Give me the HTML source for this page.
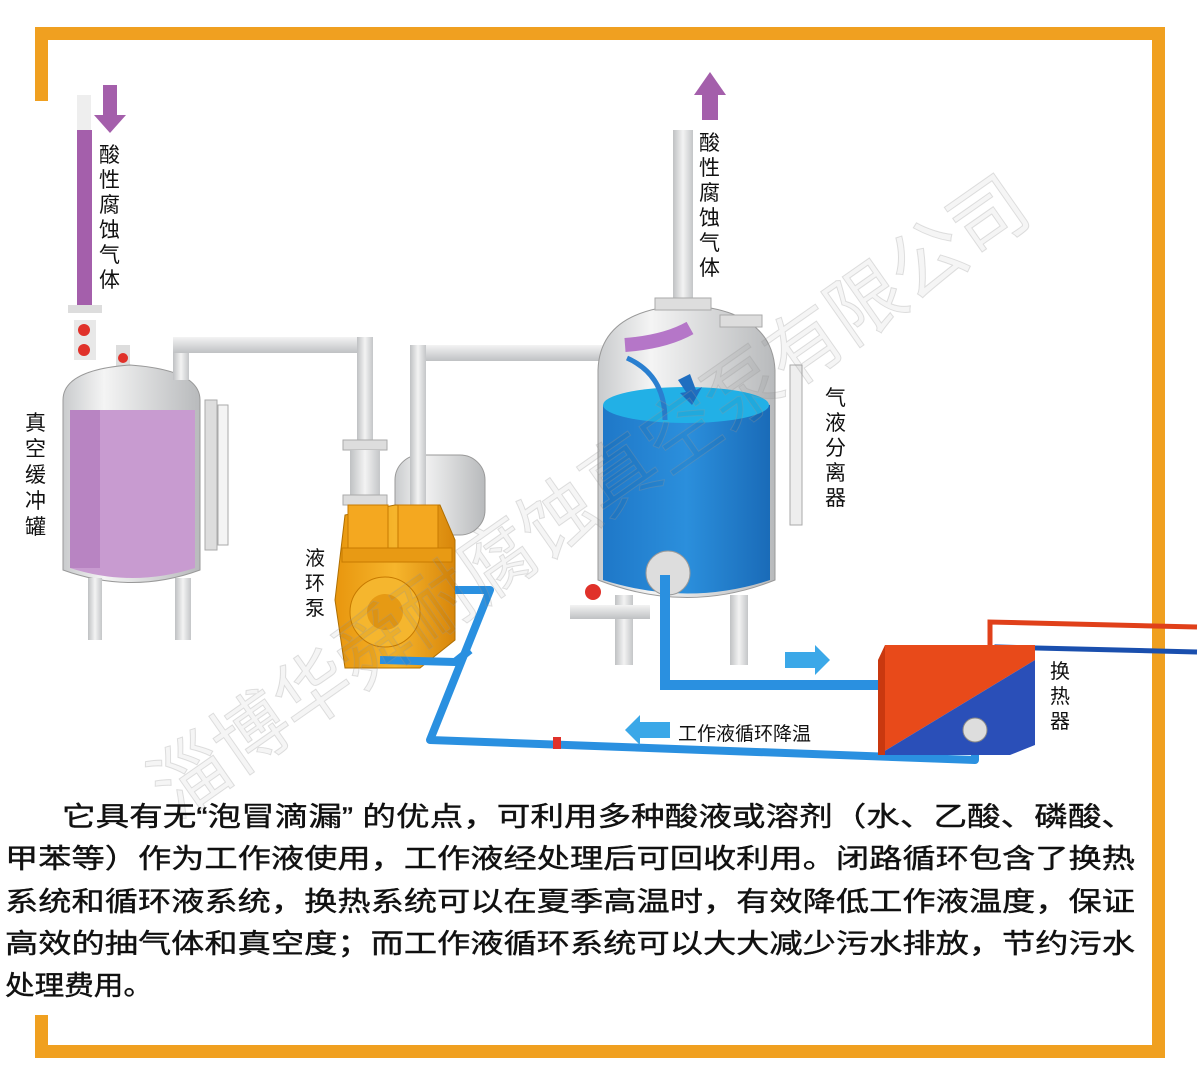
<!DOCTYPE html>
<html><head><meta charset="utf-8"><style>
html,body{margin:0;padding:0;background:#fff;}
svg{display:block;}
text{font-family:"Liberation Sans","Noto Sans CJK SC",sans-serif;}
</style></head><body>
<svg width="1200" height="1079" viewBox="0 0 1200 1079" xmlns="http://www.w3.org/2000/svg">
<defs>
<linearGradient id="steel" x1="0" x2="1"><stop offset="0" stop-color="#c9cbcd"/><stop offset="0.3" stop-color="#f4f4f4"/><stop offset="1" stop-color="#b8babc"/></linearGradient>
<linearGradient id="pipe" x1="0" x2="1"><stop offset="0" stop-color="#bfc1c3"/><stop offset="0.5" stop-color="#f3f3f3"/><stop offset="1" stop-color="#c4c6c8"/></linearGradient>
<linearGradient id="pipeh" x1="0" y1="0" x2="0" y2="1"><stop offset="0" stop-color="#f3f3f3"/><stop offset="1" stop-color="#bfc1c3"/></linearGradient>
<linearGradient id="blue" x1="0" x2="1"><stop offset="0" stop-color="#1f78c8"/><stop offset="0.5" stop-color="#2b8fdc"/><stop offset="1" stop-color="#1a6bb8"/></linearGradient>
<linearGradient id="orange" x1="0" x2="1"><stop offset="0" stop-color="#e8960e"/><stop offset="0.5" stop-color="#f6b52c"/><stop offset="1" stop-color="#d8860a"/></linearGradient>
</defs>
<g fill="#f0a020">
<rect x="35" y="27" width="1130" height="13"/>
<rect x="35" y="27" width="13" height="74"/>
<rect x="1152" y="27" width="13" height="1031"/>
<rect x="35" y="1045" width="1130" height="13"/>
<rect x="35" y="1015" width="13" height="43"/>
</g>
<rect x="77" y="95" width="14" height="40" fill="#eee"/>
<rect x="77" y="130" width="15" height="180" fill="#a45fab"/>
<polygon points="103,85 117,85 117,115 126,115 110,133 94,115 103,115" fill="#a45fab"/>
<g font-size="21" fill="#111">
<text x="99" y="162">酸</text><text x="99" y="187">性</text><text x="99" y="212">腐</text><text x="99" y="237">蚀</text><text x="99" y="262">气</text><text x="99" y="287">体</text>
</g>
<rect x="68" y="305" width="34" height="8" fill="#ddd"/>
<rect x="74" y="320" width="22" height="40" fill="#e8e8e8"/>
<circle cx="84" cy="330" r="6" fill="#e0312a"/><circle cx="84" cy="350" r="6" fill="#e0312a"/>
<rect x="116" y="345" width="14" height="35" fill="#ddd"/><circle cx="123" cy="358" r="5" fill="#e0312a"/>
<path d="M63,400 Q63,370 130,365 Q200,370 200,400 L200,570 Q132,595 63,570 Z" fill="url(#steel)" stroke="#999"/>
<path d="M70,410 L195,410 L195,568 Q132,588 70,568 Z" fill="#c89bd0"/>
<rect x="70" y="410" width="30" height="158" fill="#b884c2"/>
<rect x="88" y="578" width="14" height="62" fill="url(#pipe)"/>
<rect x="175" y="578" width="16" height="62" fill="url(#pipe)"/>
<rect x="205" y="400" width="12" height="150" fill="#ddd" stroke="#aaa"/>
<rect x="218" y="405" width="10" height="140" fill="#f4f4f4" stroke="#aaa"/>
<g font-size="21" fill="#111">
<text x="25" y="430">真</text><text x="25" y="456">空</text><text x="25" y="482">缓</text><text x="25" y="508">冲</text><text x="25" y="534">罐</text>
</g>
<rect x="173" y="340" width="16" height="40" fill="url(#pipe)"/>
<rect x="173" y="337" width="200" height="16" fill="url(#pipeh)"/>
<rect x="357" y="337" width="16" height="120" fill="url(#pipe)"/>
<rect x="343" y="440" width="44" height="10" fill="#ddd" stroke="#aaa"/>
<rect x="350" y="450" width="30" height="50" fill="url(#pipe)"/>
<rect x="343" y="495" width="44" height="10" fill="#ddd" stroke="#aaa"/>
<rect x="410" y="345" width="210" height="16" fill="url(#pipeh)"/>
<rect x="395" y="455" width="90" height="80" rx="25" fill="url(#steel)" stroke="#999"/>
<rect x="410" y="345" width="16" height="170" fill="url(#pipe)"/>
<!-- pump -->
<path d="M345,515 L395,505 L440,505 L455,540 L455,640 L420,668 L345,668 L335,600 Z" fill="url(#orange)" stroke="#b06f00"/>
<rect x="348" y="505" width="40" height="50" fill="#f4a820" stroke="#c77a00"/>
<rect x="398" y="505" width="40" height="50" fill="#f4a820" stroke="#c77a00"/>
<rect x="342" y="548" width="110" height="14" fill="#e89a14" stroke="#c77a00"/>
<circle cx="385" cy="612" r="35" fill="#f5b62e" stroke="#c77a00"/>
<circle cx="385" cy="612" r="18" fill="#e69a14"/>
<g font-size="20" fill="#111">
<text x="305" y="565">液</text><text x="305" y="590">环</text><text x="305" y="615">泵</text>
</g>
<rect x="673" y="130" width="20" height="180" fill="url(#pipe)"/>
<polygon points="702,120 702,95 694,95 710,72 726,95 718,95 718,120" fill="#a45fab"/>
<g font-size="21" fill="#111">
<text x="699" y="150">酸</text><text x="699" y="175">性</text><text x="699" y="200">腐</text><text x="699" y="225">蚀</text><text x="699" y="250">气</text><text x="699" y="275">体</text>
</g>
<path d="M598,370 Q600,310 685,305 Q772,310 775,370 L775,580 Q688,615 598,580 Z" fill="url(#steel)" stroke="#999"/>
<path d="M603,405 Q686,385 770,405 L770,580 Q688,607 603,580 Z" fill="url(#blue)"/>
<ellipse cx="686" cy="405" rx="83" ry="18" fill="#22b0e6"/>
<path d="M625,345 Q665,342 690,328" stroke="#b576c8" stroke-width="14" fill="none"/>
<path d="M627,358 Q665,375 665,420" stroke="#2a7fd0" stroke-width="5" fill="none"/>
<polygon points="678,380 690,374 696,390 702,387 692,405 680,393 686,392" fill="#1f6ec0"/>
<rect x="655" y="298" width="56" height="12" fill="#ddd" stroke="#aaa"/>
<rect x="720" y="315" width="42" height="12" fill="#ddd" stroke="#aaa"/>
<rect x="790" y="365" width="12" height="160" fill="#eee" stroke="#aaa"/>
<rect x="615" y="595" width="18" height="70" fill="url(#pipe)"/>
<rect x="730" y="595" width="18" height="70" fill="url(#pipe)"/>
<rect x="570" y="605" width="80" height="14" fill="url(#pipeh)"/>
<circle cx="593" cy="592" r="8" fill="#e0312a"/>
<circle cx="668" cy="573" r="22" fill="#ddd" stroke="#999"/>
<g font-size="21" fill="#111">
<text x="825" y="405">气</text><text x="825" y="430">液</text><text x="825" y="455">分</text><text x="825" y="480">离</text><text x="825" y="505">器</text>
</g>
<path d="M665,575 L665,685 L878,685" stroke="#2a90e0" stroke-width="10" fill="none"/>
<path d="M975,730 L975,760 L430,740 L490,590 L455,590" stroke="#2a90e0" stroke-width="8" fill="none" stroke-linejoin="round"/>
<path d="M380,660 L455,662 L470,650" stroke="#2a90e0" stroke-width="8" fill="none" stroke-linejoin="round"/>
<polygon points="785,652 815,652 815,645 830,660 815,675 815,668 785,668" fill="#3ba8e8"/>
<polygon points="670,722 640,722 640,715 625,730 640,745 640,738 670,738" fill="#3ba8e8"/>
<text x="678" y="740" font-size="19" fill="#111">工作液循环降温</text>
<rect x="553" y="737" width="8" height="12" fill="#e0312a"/>
<path d="M990,650 L990,622 L1197,627" stroke="#e0401a" stroke-width="5" fill="none"/>
<path d="M997,660 L997,647 L1197,652" stroke="#1a4fae" stroke-width="5" fill="none"/>
<polygon points="885,645 1035,645 1035,660 878,755" fill="#e84a1a"/>
<polygon points="1035,660 1035,745 1010,755 878,755" fill="#2a4fb8"/>
<polygon points="885,645 878,660 878,755 885,755" fill="#c9380f"/>
<circle cx="975" cy="730" r="12" fill="#ddd" stroke="#888"/>
<g font-size="20" fill="#111">
<text x="1050" y="678">换</text><text x="1050" y="703">热</text><text x="1050" y="728">器</text>
</g>
<text x="0" y="0" font-size="78" fill="#000" fill-opacity="0.04" stroke="#999" stroke-opacity="0.3" stroke-width="1" transform="translate(175,820) rotate(-35)" textLength="1050" lengthAdjust="spacingAndGlyphs">淄博华舜耐腐蚀真空泵有限公司</text>
<g font-size="27" fill="#111" stroke="#111" stroke-width="0.4">
<text x="62" y="826" textLength="1073" lengthAdjust="spacingAndGlyphs">它具有无“泡冒滴漏” 的优点，可利用多种酸液或溶剂（水、乙酸、磷酸、</text>
<text x="5" y="868" textLength="1130" lengthAdjust="spacingAndGlyphs">甲苯等）作为工作液使用，工作液经处理后可回收利用。闭路循环包含了换热</text>
<text x="5" y="911" textLength="1130" lengthAdjust="spacingAndGlyphs">系统和循环液系统，换热系统可以在夏季高温时，有效降低工作液温度，保证</text>
<text x="5" y="953" textLength="1130" lengthAdjust="spacingAndGlyphs">高效的抽气体和真空度；而工作液循环系统可以大大减少污水排放，节约污水</text>
<text x="5" y="995" textLength="148" lengthAdjust="spacingAndGlyphs">处理费用。</text>
</g>
</svg>
</body></html>
